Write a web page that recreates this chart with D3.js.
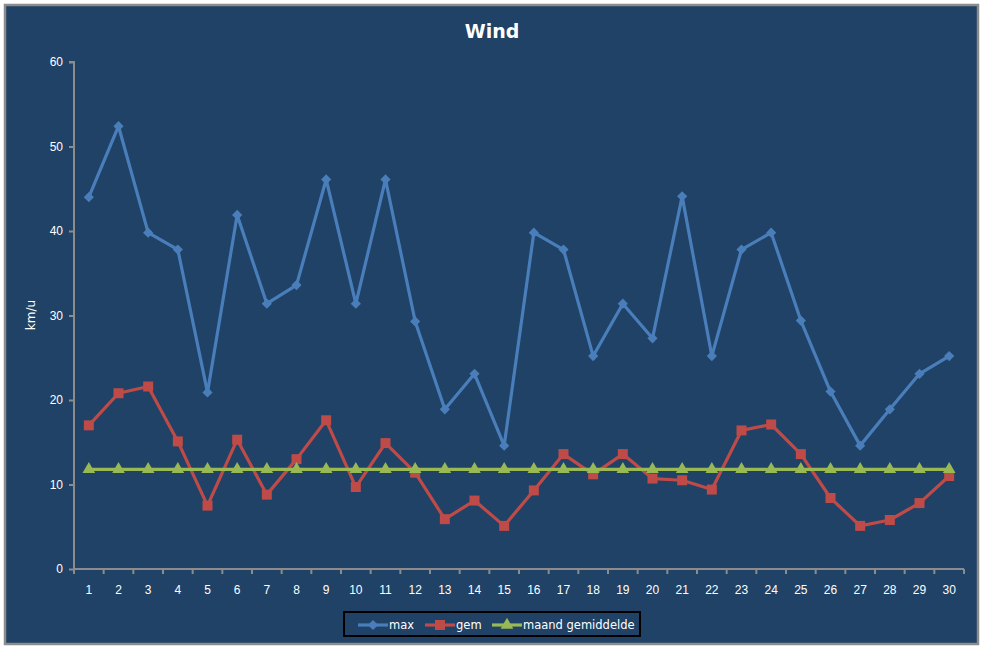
<!DOCTYPE html>
<html lang="nl">
<head>
<meta charset="UTF-8">
<title>Wind</title>
<script src="https://cdn.jsdelivr.net/npm/d3@7/dist/d3.min.js"></script>
<style>
    html, body { margin: 0; padding: 0; background: #fff; }
    svg { display: block; font-family: "DejaVu Sans", Verdana, sans-serif; }
</style>
</head>
<body>
<div id="chart"></div>
<script>
    // daily values
    const days = d3.range(1, 31);
    const maxWind = [44.0, 52.4, 39.8, 37.8, 20.9, 41.9, 31.4, 33.6, 46.1, 31.4,
                     46.1, 29.3, 18.9, 23.1, 14.6, 39.8, 37.8, 25.2, 31.4, 27.3,
                     44.1, 25.2, 37.8, 39.8, 29.4, 21.0, 14.6, 18.9, 23.1, 25.2];
    const gemWind = [17.0, 20.8, 21.6, 15.1, 7.5, 15.3, 8.8, 13.0, 17.6, 9.7,
                     14.9, 11.4, 5.9, 8.1, 5.1, 9.3, 13.6, 11.2, 13.6, 10.7,
                     10.5, 9.4, 16.4, 17.1, 13.6, 8.4, 5.1, 5.8, 7.8, 11.0];
    const maandGem = days.map(() => 11.8);
    const yTicks = [0, 10, 20, 30, 40, 50, 60];

    const series = [
        {name: "max", values: maxWind, color: "#4A7EBB", shape: d3.symbolSquare, size: 52, rot: 45},
        {name: "gem", values: gemWind, color: "#BE4B48", shape: d3.symbolSquare, size: 100, rot: 0},
        {name: "maand gemiddelde", values: maandGem, color: "#98B954", shape: d3.symbolTriangle, size: 70, rot: 0}
    ];

    var width = 987, height = 648;
    var bg = "#1F4266", axisColor = "#8C8C8C";

    var svg = d3.select("#chart").append("svg")
        .attr("width", width)
        .attr("height", height);

    svg.append("rect")
        .attr("x", 5).attr("y", 5)
        .attr("width", 973).attr("height", 639)
        .attr("fill", bg)
        .attr("stroke", axisColor)
        .attr("stroke-width", 2.5);

    var x = d3.scaleBand().domain(days).range([74, 964]);
    var y = d3.scaleLinear().domain([0, 60]).range([569, 62]);

    // y axis
    var yAxis = svg.append("g")
        .attr("transform", "translate(74,0)")
        .call(d3.axisLeft(y).tickValues(yTicks).tickSize(5).tickPadding(6));
    // x axis, ticks on category boundaries
    var xAxis = svg.append("g")
        .attr("transform", "translate(0,569)")
        .call(d3.axisBottom(x).tickSize(0).tickPadding(16));
    xAxis.selectAll(".tickb")
        .data(days.concat([0]))
        .enter().append("line")
        .attr("x1", d => d === 0 ? x.range()[1] : x(d))
        .attr("x2", d => d === 0 ? x.range()[1] : x(d))
        .attr("y1", 0).attr("y2", 5)
        .attr("stroke", axisColor).attr("stroke-width", 2);

    [yAxis, xAxis].forEach(function(a) {
        a.select(".domain").attr("stroke", axisColor).attr("stroke-width", 2);
        a.selectAll(".tick line").attr("stroke", axisColor).attr("stroke-width", 2);
        a.selectAll("text").attr("fill", "#fff").attr("font-size", "12px");
    });
    yAxis.select(".domain").attr("d", "M-5,62H0V569");
    xAxis.select(".domain").attr("d", "M74,0H964");

    svg.append("text")
        .attr("transform", "translate(35,315) rotate(-90)")
        .attr("text-anchor", "middle")
        .attr("fill", "#fff")
        .attr("font-size", "12px")
        .text("km/u");

    svg.append("text")
        .attr("x", 492).attr("y", 38)
        .attr("text-anchor", "middle")
        .attr("fill", "#fff")
        .attr("font-size", "19px")
        .attr("font-weight", "bold")
        .text("Wind");

    var line = d3.line()
        .x((d, i) => x(days[i]) + x.bandwidth() / 2)
        .y(d => y(d));

    series.forEach(function(s) {
        var g = svg.append("g");
        g.append("path")
            .attr("d", line(s.values))
            .attr("fill", "none")
            .attr("stroke", s.color)
            .attr("stroke-width", 3.2)
            .attr("stroke-linejoin", "round");
        g.selectAll("path.mark")
            .data(s.values)
            .enter().append("path")
            .attr("class", "mark")
            .attr("d", d3.symbol().type(s.shape).size(s.size))
            .attr("transform", (d, i) => "translate(" + (x(days[i]) + x.bandwidth() / 2) + "," + y(d) + ") rotate(" + s.rot + ")")
            .attr("fill", s.color);
    });

    // legend
    var legend = svg.append("g");
    legend.append("rect")
        .attr("x", 344).attr("y", 612)
        .attr("width", 296).attr("height", 24)
        .attr("fill", bg)
        .attr("stroke", "#000")
        .attr("stroke-width", 2);
    var legendX = [358, 425, 492];
    series.forEach(function(s, i) {
        var lg = legend.append("g").attr("transform", "translate(" + legendX[i] + ",625)");
        lg.append("line")
            .attr("x1", 0).attr("x2", 30)
            .attr("stroke", s.color).attr("stroke-width", 3.2);
        lg.append("path")
            .attr("d", d3.symbol().type(s.shape).size(s.size))
            .attr("transform", "translate(15,0) rotate(" + s.rot + ")")
            .attr("fill", s.color);
        lg.append("text")
            .attr("x", 31).attr("y", 4)
            .attr("fill", "#fff")
            .attr("font-size", "11.5px")
            .text(s.name);
    });
</script>
</body>
</html>
